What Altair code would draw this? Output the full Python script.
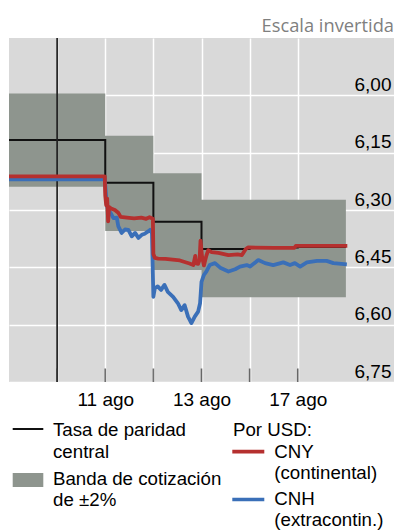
import altair as alt
import pandas as pd

# ---- data (x = trading-day index; 1 = 10 ago, 2 = 11 ago, ... 6 = 17 ago) ----
tick_days = [1, 2, 3, 4, 5, 6]
tick_labels = ["", "11 ago", "", "13 ago", "", "17 ago"]
y_ticks = [6.00, 6.15, 6.30, 6.45, 6.60, 6.75]

band_days = [0, 2, 3, 4, 7]
band_low = [5.995, 6.106, 6.204, 6.273, 6.273]
band_high = [6.239, 6.355, 6.457, 6.528, 6.528]

central_days = [0, 2, 3, 4, 5, 6, 7]
central_rate = [6.117, 6.229, 6.331, 6.402, 6.398, 6.397, 6.397]

marker_day = [1]

cny_days = [0.00, 1.99, 2.00, 2.02, 2.04, 2.06, 2.08, 2.12, 2.20, 2.27, 2.32, 2.45,
            2.60, 2.75, 2.85, 2.92, 2.99, 3.00, 3.03, 3.10, 3.25, 3.40, 3.55, 3.65,
            3.75, 3.83, 3.87, 3.89, 3.93, 3.96, 3.98, 4.01, 4.05, 4.10, 4.14, 4.21,
            4.35, 4.56, 4.75, 4.84, 4.92, 4.97, 5.50, 5.93, 5.96, 6.50, 7.03]
cny_rate = [6.212, 6.212, 6.262, 6.288, 6.270, 6.330, 6.292, 6.296, 6.300, 6.307, 6.318, 6.320,
            6.322, 6.320, 6.323, 6.319, 6.323, 6.415, 6.425, 6.427, 6.428, 6.430, 6.432, 6.436,
            6.440, 6.444, 6.420, 6.440, 6.441, 6.430, 6.380, 6.420, 6.445, 6.420, 6.405, 6.410,
            6.412, 6.418, 6.416, 6.418, 6.402, 6.398, 6.399, 6.399, 6.394, 6.394, 6.394]

cnh_days = [0.00, 1.99, 2.00, 2.03, 2.06, 2.10, 2.13, 2.17, 2.24, 2.27, 2.34, 2.41,
            2.48, 2.55, 2.62, 2.69, 2.76, 2.82, 2.89, 2.93, 2.97, 3.00, 3.03, 3.09,
            3.16, 3.23, 3.30, 3.41, 3.51, 3.58, 3.65, 3.72, 3.79, 3.86, 3.93, 3.97,
            4.00, 4.05, 4.10, 4.17, 4.28, 4.40, 4.56, 4.70, 4.80, 4.94, 5.01, 5.18,
            5.32, 5.49, 5.70, 5.84, 5.94, 6.05, 6.19, 6.40, 6.60, 6.74, 7.02]
cnh_rate = [6.220, 6.220, 6.235, 6.285, 6.300, 6.306, 6.312, 6.321, 6.320, 6.342, 6.360, 6.351,
            6.352, 6.369, 6.360, 6.373, 6.365, 6.362, 6.356, 6.352, 6.360, 6.527, 6.505, 6.500,
            6.509, 6.496, 6.514, 6.527, 6.544, 6.562, 6.549, 6.579, 6.596, 6.579, 6.566, 6.544,
            6.488, 6.470, 6.461, 6.444, 6.439, 6.452, 6.461, 6.455, 6.448, 6.444, 6.448, 6.431,
            6.439, 6.444, 6.437, 6.444, 6.439, 6.448, 6.437, 6.433, 6.433, 6.439, 6.442]

title_text = "Escala invertida"
legend_left = ["Tasa de paridad", "central", "Banda de cotización", "de ±2%"]
legend_right = ["Por USD:", "CNY", "(continental)", "CNH", "(extracontin.)"]

# ---- styles ----
BG = "#d9d9d9"
BAND = "#8e958e"
RED = "#b5302f"
BLUE = "#3a6fb8"
FONT = "Liberation Sans"
W, H = 385, 344

x_expr = " : ".join(f"datum.value == {d} ? '{l}'" for d, l in zip(tick_days, tick_labels)) + " : ''"
x_axis = alt.Axis(values=tick_days, labelExpr=x_expr, title=None, ticks=False, domain=False,
                  grid=True, gridColor="white", gridWidth=1.5, labelFont=FONT, labelFontSize=19,
                  labelColor="black", labelPadding=8.5, labelFlush=False)
y_axis = alt.Axis(values=y_ticks, orient="right", title=None, ticks=False, tickSize=0, domain=False,
                  grid=True, gridColor="white", gridWidth=1.5,
                  labelExpr="replace(format(datum.value, '.2f'), '.', ',')",
                  labelFont=FONT, labelFontSize=19, labelColor="black", labelAlign="right",
                  labelBaseline="alphabetic", labelPadding=-3, labelOffset=-5, labelFlush=False)
xs = alt.Scale(domain=[0, 8.0], nice=False, zero=False)
ys = alt.Scale(domain=[5.85, 6.75], reverse=True, nice=False, zero=False)


def X():
    return alt.X("day:Q", scale=xs, axis=x_axis)


def Y(field="rate"):
    return alt.Y(f"{field}:Q", scale=ys, axis=y_axis)


band_df = pd.DataFrame({"day": band_days, "rate": band_low, "hi": band_high})
central_df = pd.DataFrame({"day": central_days, "rate": central_rate})
cny_df = pd.DataFrame({"day": cny_days, "rate": cny_rate})
cnh_df = pd.DataFrame({"day": cnh_days, "rate": cnh_rate})
marker_df = pd.DataFrame({"day": marker_day})
tick_df = pd.DataFrame({"day": tick_days, "rate": [y_ticks[-1]] * len(tick_days)})

band = alt.Chart(band_df).mark_area(interpolate="step-after", color=BAND, opacity=1).encode(
    x=X(), y=Y(), y2="hi:Q")
central = alt.Chart(central_df).mark_line(interpolate="step-after", color="#111111", strokeWidth=2).encode(
    x=X(), y=Y())
marker = alt.Chart(marker_df).mark_rule(color="#222222", strokeWidth=1.7).encode(x=X())
ticks = alt.Chart(tick_df).mark_tick(orient="vertical", size=27, thickness=1.6, color="#333333",
                                     clip=True).encode(x=X(), y=Y())
cnh = alt.Chart(cnh_df).mark_line(color=BLUE, strokeWidth=3.8, strokeJoin="round").encode(x=X(), y=Y())
cny = alt.Chart(cny_df).mark_line(color=RED, strokeWidth=3.8, strokeJoin="round").encode(x=X(), y=Y())


def txt(s, x, y, size=18.7, color="black", font=FONT, align="left"):
    return alt.Chart(pd.DataFrame({"t": [s]})).mark_text(
        align=align, baseline="alphabetic", font=font, fontSize=size, color=color).encode(
        x=alt.value(x), y=alt.value(y), text="t:N")


def seg(x1, x2, y, color, width):
    return alt.Chart(pd.DataFrame({"t": [0]})).mark_rule(color=color, strokeWidth=width).encode(
        x=alt.value(x1), x2=alt.value(x2), y=alt.value(y))


title = txt(title_text, W, -5.7, size=18.3, color="#7f7f7f", font="Open Sans", align="right")

leg_rect = alt.Chart(pd.DataFrame({"t": [0]})).mark_rect(color=BAND).encode(
    x=alt.value(3.7), x2=alt.value(34.3), y=alt.value(435), y2=alt.value(449))

legend = [
    seg(3.7, 34.3, 391, "#111111", 2),
    txt(legend_left[0], 44, 398),
    txt(legend_left[1], 44, 419.5),
    leg_rect,
    txt(legend_left[2], 44, 446.5),
    txt(legend_left[3], 44, 468),
    txt(legend_right[0], 224, 398),
    seg(223.3, 255.3, 413.7, RED, 3.7),
    txt(legend_right[1], 265.3, 419.5),
    txt(legend_right[2], 265.3, 440.5),
    seg(223.3, 255.3, 461.5, BLUE, 3.7),
    txt(legend_right[3], 265.3, 467),
    txt(legend_right[4], 265.3, 488),
]

chart = alt.layer(band, central, marker, ticks, cnh, cny, title, *legend).properties(
    width=W, height=H,
    padding={"left": 1, "top": 30, "right": 0, "bottom": 150},
    autosize=alt.AutoSizeParams(type="none"),
).configure_view(fill=BG, strokeWidth=0)

chart.save("out.html", embed_options={"renderer": "svg", "actions": False})
